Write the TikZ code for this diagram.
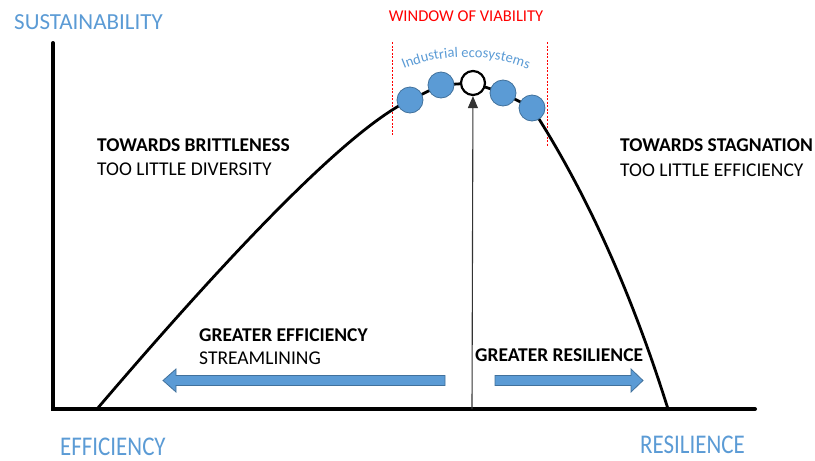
\documentclass[tikz,border=0pt]{standalone}
\usepackage{fontspec}
\setmainfont{Carlito}
\usetikzlibrary{arrows.meta,decorations.text}
\definecolor{ltblue}{HTML}{5B9BD5}
\definecolor{dkblue}{HTML}{41719C}
\definecolor{axblue}{HTML}{5B9BD5}
\tikzset{
  axis/.style={line width=4pt,line cap=round},
  curve/.style={line width=2.8pt,line cap=round},
  dot/.style={circle,draw=dkblue,line width=0.8pt,fill=ltblue,minimum size=26pt,inner sep=0pt},
  wdot/.style={circle,draw=black,line width=2.2pt,fill=white,minimum size=24pt,inner sep=0pt},
  axlabel/.style={text=axblue,font=\fontsize{23}{26}\selectfont,inner sep=0pt,anchor=west},
  condlabel/.style={text=axblue,font=\fontsize{27}{30}\selectfont,inner sep=0pt,anchor=west,xscale=0.85},
  lbl/.style={font=\fontsize{19.5}{22}\selectfont,inner sep=0pt,anchor=west},
  blbl/.style={font=\fontsize{19.5}{22}\selectfont\bfseries,inner sep=0pt,anchor=west},
  window/.style={red,line width=0.6pt,dash pattern=on 2pt off 1.5pt},
  barrow/.style={draw=dkblue,fill=ltblue,line width=0.8pt,line join=miter}
}
\begin{document}
\begin{tikzpicture}[x=1pt,y=-1pt]
\useasboundingbox (0,0) rectangle (815,461);
% axes
\coordinate (origin) at (53,409);
\coordinate (ytop) at (53,43);
\coordinate (xend) at (755,409);
\draw[axis] (ytop) -- (origin) -- (xend);
% window of viability
\coordinate (wl1) at (392,42); \coordinate (wl2) at (392,136);
\coordinate (wr1) at (547,42); \coordinate (wr2) at (547,147);
\draw[window] (wl1) -- (wl2);
\draw[window] (wr1) -- (wr2);
% dots positions
\coordinate (c1) at (410,100);
\coordinate (c2) at (441,85);
\coordinate (c3) at (473,83);
\coordinate (c4) at (503,93);
\coordinate (c5) at (532,108);
\coordinate (cstart) at (97,409);
\coordinate (cend) at (668,409);
% curve
\draw[curve] (cstart) .. controls (250.8,228.8) and (355.1,125.8) .. (c1) -- (c2) -- (c3) -- (c4) -- (c5)
  .. controls (585.7,191.1) and (631.1,291.4) .. (cend);
% dots
\node[dot] (d1) at (c1) {};
\node[dot] (d2) at (c2) {};
\node[wdot] (d3) at (c3) {};
\node[dot] (d4) at (c4) {};
\node[dot] (d5) at (c5) {};
% vertical arrow
\coordinate (abase) at (472,409);
\draw[line width=1.1pt,black!80,-{Triangle[length=12pt,width=10pt]}] (abase) -- (d3);
% blue arrows
\draw[barrow] (163,380.5) -- (176,369) -- (176,375.5) -- (445,375.5) -- (445,385.5) -- (176,385.5) -- (176,392) -- cycle;
\draw[barrow] (643,380.5) -- (631,369) -- (631,375.5) -- (495,375.5) -- (495,385.5) -- (631,385.5) -- (631,392) -- cycle;
% texts
\node[text=red,font=\fontsize{16.5}{18}\selectfont] (wov) at (466,16) {WINDOW OF VIABILITY};
\path[decorate,decoration={text along path,text align=center,text={|\color{ltblue}\fontsize{14.5}{16}\selectfont|Industrial ecosystems}}] (397,72) .. controls (440,52) and (490,52) .. (535,72);
\node[axlabel] (sus) at (14,22) {SUSTAINABILITY};
\node[condlabel] (eff) at (60,447) {EFFICIENCY};
\node[condlabel] (res) at (640,445) {RESILIENCE};
\node[blbl] (tb) at (97,145) {TOWARDS BRITTLENESS};
\node[lbl] (tld) at (97,169) {TOO LITTLE DIVERSITY};
\node[blbl] (ts) at (620,145) {TOWARDS STAGNATION};
\node[lbl] (tle) at (620,170) {TOO LITTLE EFFICIENCY};
\node[blbl] (ge) at (199,335) {GREATER EFFICIENCY};
\node[lbl] (sl) at (199,358) {STREAMLINING};
\node[blbl] (gr) at (475,355) {GREATER RESILIENCE};
\end{tikzpicture}
\end{document}
